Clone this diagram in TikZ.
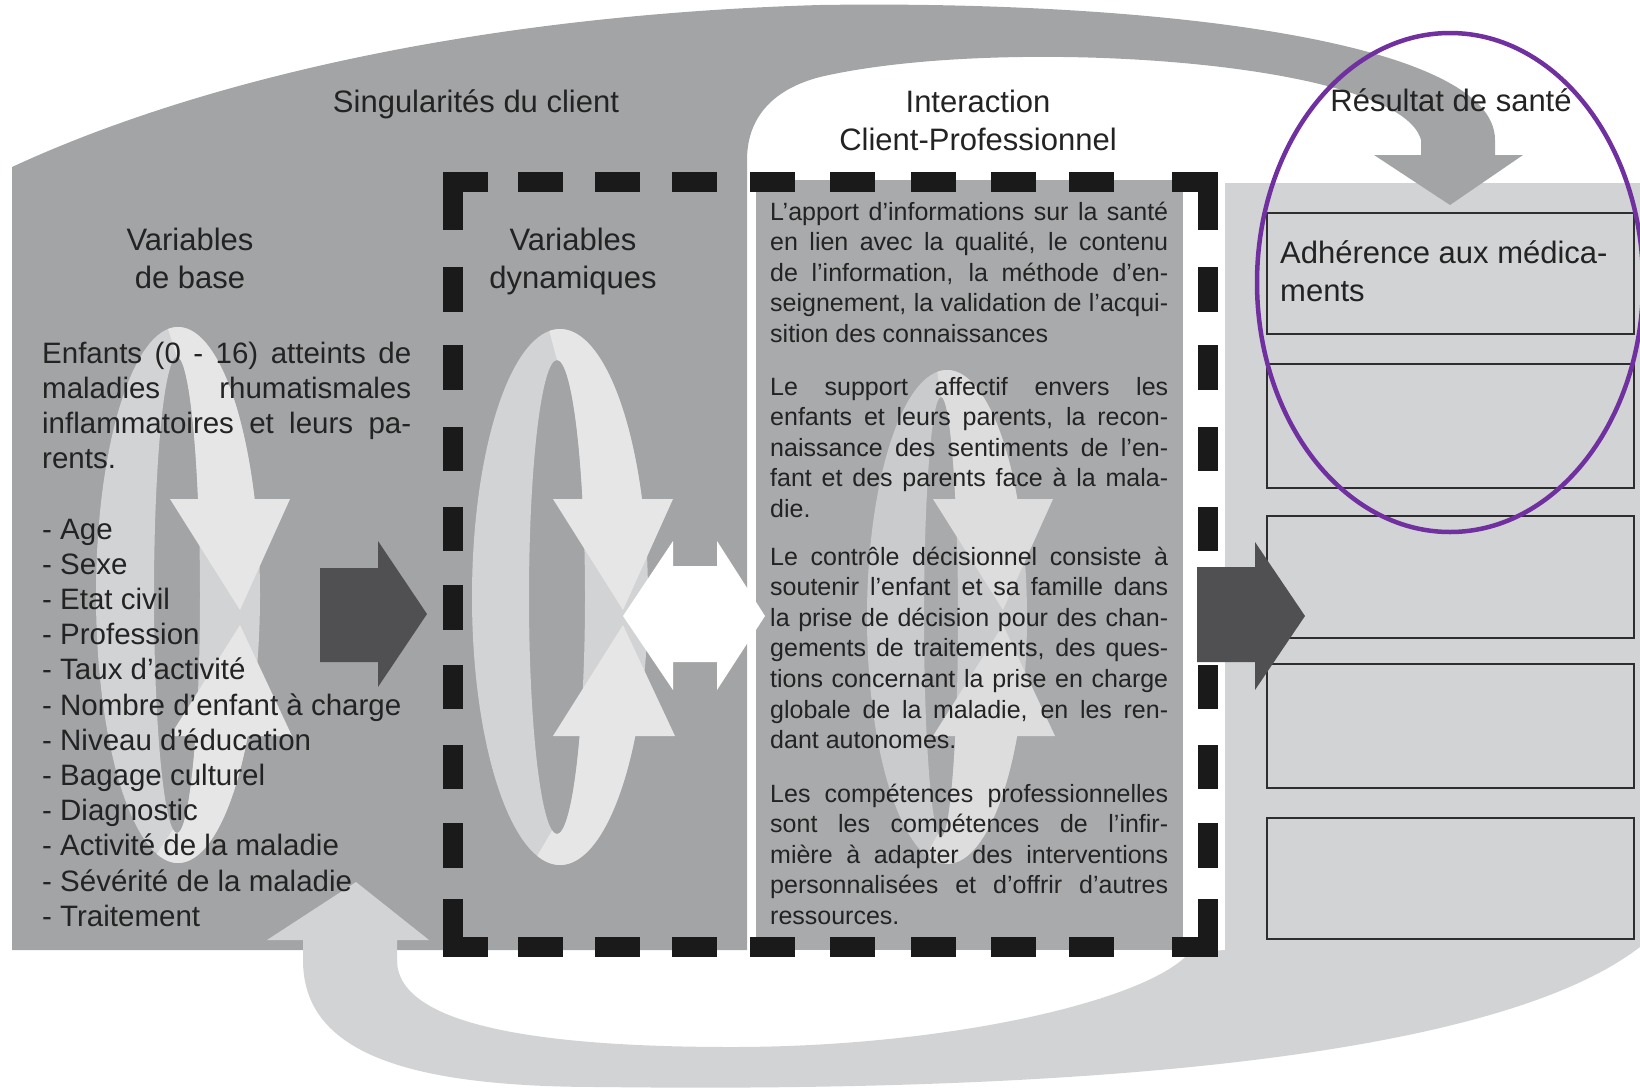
\documentclass[tikz,border=0pt]{standalone}
\usepackage{fontspec}
\setmainfont{Liberation Sans}
\definecolor{grayb}{HTML}{A3A4A6}
\definecolor{midp}{HTML}{A9AAAC}
\definecolor{lightp}{HTML}{D2D3D5}
\definecolor{boxline}{HTML}{2E2E2E}
\definecolor{darkarr}{HTML}{505053}
\definecolor{dashc}{HTML}{1A1A1A}
\definecolor{txtc}{HTML}{232323}
\definecolor{purp}{HTML}{7030A0}
\definecolor{backA}{HTML}{D2D3D5}
\definecolor{frontA}{HTML}{E6E6E7}
\definecolor{backB}{HTML}{CACBCD}
\definecolor{frontB}{HTML}{DDDDDE}
\newcommand\jpar[4]{\vtop{\hsize=#1pt\parindent=0pt\parskip=0pt\tolerance=10000\hbadness=10000\hyphenpenalty=10000\exhyphenpenalty=10000\fontsize{#2}{#3}\selectfont #4}}
\newcommand\ringcyc[9]{%
 \pgfmathsetmacro\cyA{asin((499-#2)/#3)}%
 \pgfmathsetmacro\cyB{asin((499-#2)/#4)}%
 \pgfmathsetmacro\cyC{asin((736-#2)/#3)}%
 \pgfmathsetmacro\cyD{asin((736-#2)/#4)}%
 \begin{scope}[xshift=#1pt]
  \fill[back#9,even odd rule] (#5,#2) ellipse[x radius=#6pt,y radius=#3pt] (#7,#2) ellipse[x radius=#8pt,y radius=#4pt];
  \fill[front#9] plot[domain=-97:\cyA,samples=40] ({#5+#6*cos(\x)},{#2+#3*sin(\x)}) -- (673,499) -- (623,610) -- (553,499) -- plot[domain=\cyB:-90,samples=40] ({#7+#8*cos(\x)},{#2+#4*sin(\x)}) -- cycle;
  \fill[front#9] (553,736) -- (623,625) -- (675,736) -- plot[domain=\cyC:105,samples=40] ({#5+#6*cos(\x)},{#2+#3*sin(\x)}) -- plot[domain=100:\cyD,samples=40] ({#7+#8*cos(\x)},{#2+#4*sin(\x)}) -- cycle;
 \end{scope}}
\tikzset{
 txt/.style={inner sep=0pt, text=txtc},
 head/.style={txt, anchor=base, font=\fontsize{31}{37.5}\selectfont},
 rbox/.style={draw=boxline, line width=2pt, fill=lightp, anchor=north west, inner sep=0pt, minimum width=367pt},
 darrow/.style={fill=darkarr},
 dashbit/.style={fill=dashc},
}
\begin{document}
\begin{tikzpicture}[x=1pt,y=-1pt]
\useasboundingbox (0,0) rectangle (1640,1087);
\clip (0,0) rectangle (1640,1087);
% right light panel and bottom return arc
\fill[lightp] (1225,183) -- (1640,183) -- (1640,947) .. controls (1480,1070) and (1000,1092) .. (600,1087) .. controls (400,1087) and (303,1050) .. (303,960) -- (397,960) .. controls (397,1030) and (560,1047) .. (732,1047) .. controls (950,1047) and (1150,1000) .. (1190,952) -- (1225,950) -- cycle;
% result boxes
\node[rbox, minimum height=121pt] (r1) at (1266,212) {};
\node[rbox, minimum height=124pt] (r2) at (1266,363) {};
\node[rbox, minimum height=122pt] (r3) at (1266,515) {};
\node[rbox, minimum height=124pt] (r4) at (1266,663) {};
\node[rbox, minimum height=121pt] (r5) at (1266,817) {};
% main gray body with top arc arrow
\fill[grayb] (12,950) -- (12,167) .. controls (200,80) and (480,15) .. (820,5) .. controls (1150,0) and (1495,40) .. (1495,140) -- (1495,155) -- (1523,155) -- (1450,205) -- (1374,155) -- (1421,155) -- (1421,140) .. controls (1400,60) and (1000,35) .. (820,77) .. controls (770,90) and (747,120) .. (747,160) -- (747,950) -- cycle;
% middle panel
\fill[midp] (756,180) rectangle (1183,950);
% head of bottom return arrow
\fill[lightp] (303,965) -- (303,940) -- (267,940) -- (356,882) -- (429,940) -- (397,940) -- (397,965) -- cycle;
% cycles
\ringcyc{-383}{595}{268}{238}{561}{82}{560}{23}{A}
\ringcyc{0}{597}{268}{237}{560}{88}{557}{28}{A}
\ringcyc{380}{617}{247}{220}{567}{80}{561}{17}{B}
% arrows
\fill[darrow] (320,568) -- (378,568) -- (378,541) -- (427,614) -- (378,687) -- (378,662) -- (320,662) -- cycle;
\fill[white] (623,616) -- (673,541) -- (673,566) -- (717,566) -- (717,541) -- (765,616) -- (717,690) -- (717,662) -- (673,662) -- (673,690) -- cycle;
% dashed frame
\foreach \a in {443,518,595,672,750,830,911,991,1069}{
  \fill[dashbit] (\a,172) rectangle ({\a+45},192);
  \fill[dashbit] (\a,937) rectangle ({\a+45},957);}
\fill[dashbit] (1172,172) rectangle (1217.5,192);
\fill[dashbit] (1172,937) rectangle (1217.5,957);
\foreach \a/\b in {172/230,267/312,345/390,427/471,507/551,585/630,665/709,745/789,823/868,899/957}{
  \fill[dashbit] (443,\a) rectangle (463,\b);
  \fill[dashbit] (1197.5,\a) rectangle (1217.5,\b);}
\fill[darrow] (1197,567) -- (1255,567) -- (1255,542) -- (1305,616) -- (1255,690) -- (1255,662) -- (1197,662) -- cycle;
% headings
\node[head] (hsing) at (476,112.5) {Singularités du client};
\node[head] (hint1) at (978,112.5) {Interaction};
\node[head] (hint2) at (978,150) {Client-Professionnel};
\node[head] (hres) at (1451,111.5) {Résultat de santé};
\node[head] (hvb1) at (190,250.5) {Variables};
\node[head] (hvb2) at (190,288) {de base};
\node[head] (hvd1) at (573,250.5) {Variables};
\node[head] (hvd2) at (573,288) {dynamiques};
% left text
\node[txt, anchor=base west] (ltext) at (42,363) {\jpar{369}{29.5}{35.2}{Enfants (0 - 16) atteints de\break maladies rhumatismales\break inflammatoires et leurs pa-\break rents.\par\vskip35.2pt
- Age\par - Sexe\par - Etat civil\par - Profession\par - Taux d'activité\par - Nombre d'enfant à charge\par - Niveau d'éducation\par - Bagage culturel\par - Diagnostic\par - Activité de la maladie\par - Sévérité de la maladie\par - Traitement}};
% middle text
\node[txt, anchor=base west] (p1) at (770,220) {\jpar{398}{25}{30.6}{L'apport d'informations sur la santé\break en lien avec la qualité, le contenu\break de l'information, la méthode d'en-\break seignement, la validation de l'acqui-\break sition des connaissances}};
\node[txt, anchor=base west] (p2) at (770,395) {\jpar{398}{25}{30.6}{Le support affectif envers les\break enfants et leurs parents, la recon-\break naissance des sentiments de l'en-\break fant et des parents face à la mala-\break die.}};
\node[txt, anchor=base west] (p3) at (770,565) {\jpar{398}{25}{30.6}{Le contrôle décisionnel consiste à\break soutenir l'enfant et sa famille dans\break la prise de décision pour des chan-\break gements de traitements, des ques-\break tions concernant la prise en charge\break globale de la maladie, en les ren-\break dant autonomes.}};
\node[txt, anchor=base west] (p4) at (770,802) {\jpar{398}{25}{30.6}{Les compétences professionnelles\break sont les compétences de l'infir-\break mière à adapter des interventions\break personnalisées et d'offrir d'autres\break ressources.}};
% result text
\node[txt, anchor=base west] (adh) at (1280,263) {\jpar{345}{31}{38}{Adhérence aux médica-\\ments}};
% highlight ellipse
\draw[purp, line width=4.5pt] (1450,282.5) ellipse [x radius=193pt, y radius=249.5pt];
\end{tikzpicture}
\end{document}
